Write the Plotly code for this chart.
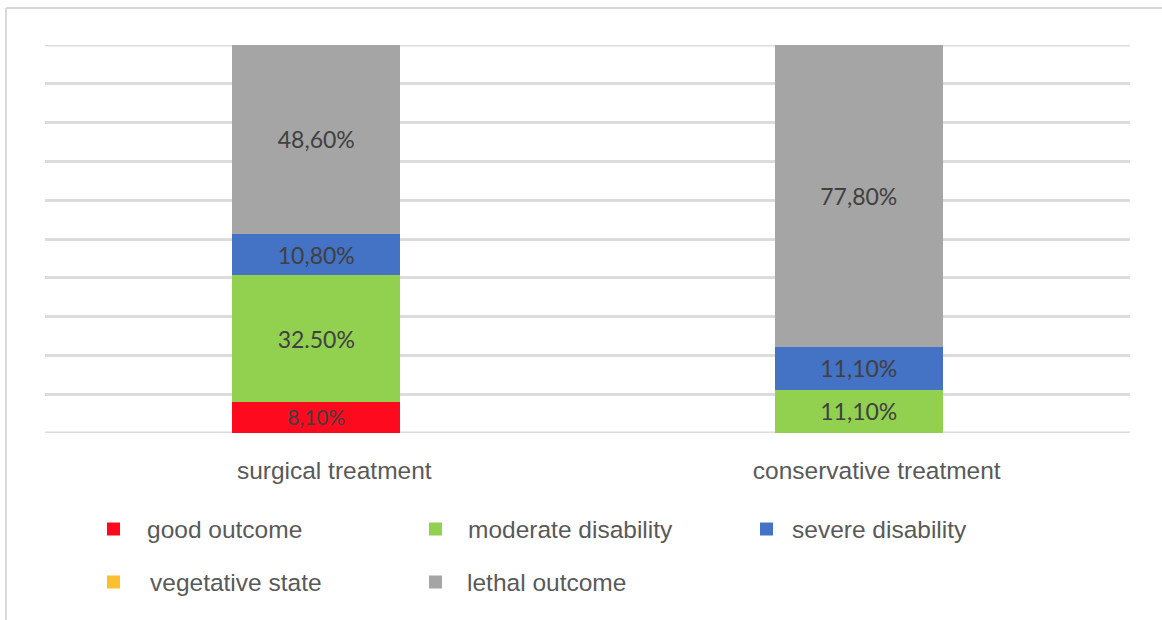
import plotly.graph_objects as go

# Treatment groups and outcome shares (%)
categories = ["surgical treatment", "conservative treatment"]
outcomes = ["good outcome", "moderate disability", "severe disability",
            "vegetative state", "lethal outcome"]
good_outcome = [8.1, 0]
moderate_disability = [32.5, 11.1]
severe_disability = [10.8, 11.1]
vegetative_state = [0, 0]
lethal_outcome = [48.6, 77.8]

# Segment labels as printed on the bars
good_labels = ["8,10%", ""]
moderate_labels = ["32.50%", "11,10%"]
severe_labels = ["10,80%", "11,10%"]
vegetative_labels = ["", ""]
lethal_labels = ["48,60%", "77,80%"]

colors = ["#fe0a1e", "#92d050", "#4472c4", "#fcbf2d", "#a5a5a5"]

series = [good_outcome, moderate_disability, severe_disability,
          vegetative_state, lethal_outcome]
labels = [good_labels, moderate_labels, severe_labels,
          vegetative_labels, lethal_labels]

W, H = 1162, 620
L, R, T, B = 45, 32, 45, 187
PW, PH = W - L - R, H - T - B
GRID = "#dcdcdc"


def px(x):
    return (x - L) / PW


def py(y):
    return (H - B - y) / PH


fig = go.Figure()
for name, vals, txt, col in zip(outcomes, series, labels, colors):
    fig.add_trace(go.Bar(
        x=categories, y=vals, name=name, text=txt,
        marker=dict(color=col, line=dict(width=0)),
        textposition="inside", insidetextanchor="middle",
        textangle=0,
        textfont=dict(family="Lato", size=23, color="#404040"),
        hoverinfo="skip", showlegend=False,
    ))

# Legend laid out in two rows
legend_pos = [(107, 529, 145), (429, 529, 466), (760, 529, 790),
              (107, 582, 148), (429, 582, 465)]
shapes = []
annotations = []
for (sx, sy, tx), name, col in zip(legend_pos, outcomes, colors):
    shapes.append(dict(type="rect", xref="paper", yref="paper",
                       x0=px(sx), x1=px(sx + 13), y0=py(sy - 6.5), y1=py(sy + 6.5),
                       fillcolor=col, line=dict(width=0)))
    annotations.append(dict(text=name, xref="paper", yref="paper",
                            x=px(tx), y=py(sy), xanchor="left", yanchor="middle",
                            showarrow=False,
                            font=dict(family="Liberation Sans", size=24.5, color="#595959")))

# Grid lines at the axis ends
for yv in (0, 100):
    shapes.append(dict(type="line", xref="paper", yref="y", layer="below",
                       x0=0, x1=1, y0=yv, y1=yv,
                       line=dict(color=GRID, width=3)))

# Outer frame lines
shapes.append(dict(type="line", xref="paper", yref="paper",
                   x0=px(6), x1=px(1170), y0=py(8), y1=py(8),
                   line=dict(color="#d9d9d9", width=2)))
shapes.append(dict(type="line", xref="paper", yref="paper",
                   x0=px(6), x1=px(6), y0=py(8), y1=py(630),
                   line=dict(color="#d9d9d9", width=2)))

fig.update_layout(
    width=W, height=H,
    margin=dict(l=L, r=R, t=T, b=B),
    barmode="stack", bargap=0.69,
    plot_bgcolor="white", paper_bgcolor="white",
    shapes=shapes, annotations=annotations,
    xaxis=dict(showgrid=False, showline=False, zeroline=False,
               ticks="", ticklabelstandoff=20, ticklabelshift=18,
               tickfont=dict(family="Liberation Sans", size=24.5, color="#595959")),
    yaxis=dict(range=[0, 100], dtick=10, showgrid=True, gridcolor=GRID,
               gridwidth=3, zeroline=False, showticklabels=False, showline=False),
    uniformtext=dict(minsize=8),
)

fig.write_html("out.html")
